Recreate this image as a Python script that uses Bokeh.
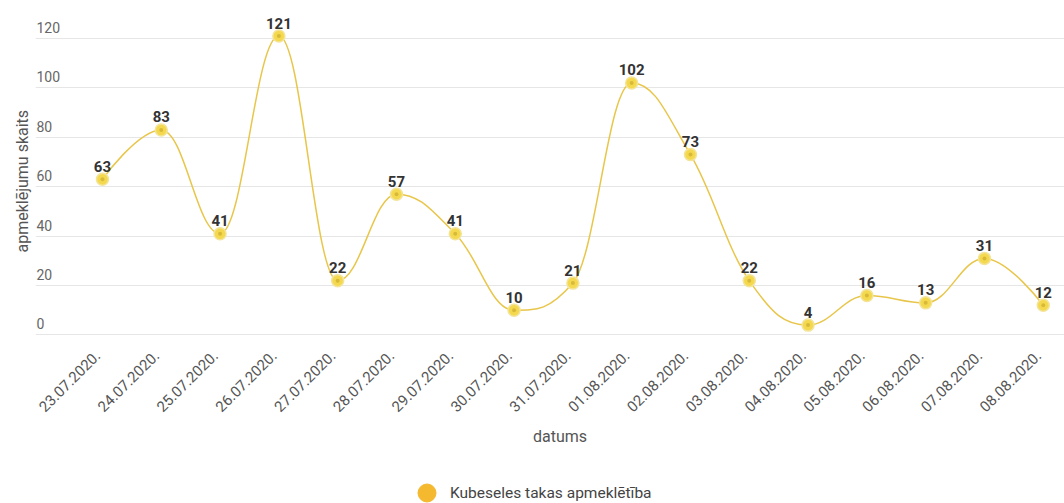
import math
import numpy as np
from bokeh.plotting import figure
from bokeh.models import FixedTicker, Range1d, Legend, LegendItem, Title
from bokeh.core.properties import value
from bokeh.embed import file_html
from bokeh.resources import INLINE

dates = ["23.07.2020.", "24.07.2020.", "25.07.2020.", "26.07.2020.", "27.07.2020.",
         "28.07.2020.", "29.07.2020.", "30.07.2020.", "31.07.2020.", "01.08.2020.",
         "02.08.2020.", "03.08.2020.", "04.08.2020.", "05.08.2020.", "06.08.2020.",
         "07.08.2020.", "08.08.2020."]
visits = [63, 83, 41, 121, 22, 57, 41, 10, 21, 102, 73, 22, 4, 16, 13, 31, 12]
y_ticks = [0, 20, 40, 60, 80, 100, 120]
series_name = "Kubeseles takas apmeklētība"
x_title = "datums"
y_title = "apmeklējumu skaits"

FONT = "Roboto"
LINE_COLOR = "#e8c64a"

xs = list(range(len(visits)))

# value area spans -2.23 .. 131.33; the frame continues further down so that the
# category labels, axis title and legend sit inside it.
Y_HIGH = 131.33
p = figure(width=1064, height=503, output_backend="svg", toolbar_location=None,
           x_range=Range1d(-1.139, 16.361), y_range=Range1d(-68.2, Y_HIGH),
           min_border_left=35, min_border_right=0, min_border_top=10, min_border_bottom=0)
p.outline_line_color = None
p.background_fill_color = "white"
p.border_fill_color = "white"

# grid
p.xgrid.visible = False
p.ygrid.ticker = FixedTicker(ticks=y_ticks)
p.ygrid.grid_line_color = "#e6e6e6"
p.ygrid.grid_line_width = 1

p.xaxis.visible = False
p.yaxis.visible = False

# y axis title
p.add_layout(Title(text=y_title, align="left", offset=251, standoff=8,
                   text_font=FONT, text_font_size="16px", text_font_style="normal",
                   text_color="#555555"), "left")

# y tick labels drawn inside the plot, above grid lines
p.text(x=[p.x_range.start] * len(y_ticks), y=y_ticks, text=[str(t) for t in y_ticks],
       x_offset=1, y_offset=-11, text_align="left", text_baseline="alphabetic",
       text_font=value(FONT), text_font_size="14px", text_color="#666666")

# category labels (rotated) under the zero line
p.text(x=xs, y=[0] * len(xs), text=dates, angle=math.pi / 4,
       x_offset=-5, y_offset=18, text_align="right", text_baseline="middle",
       text_font=value(FONT), text_font_size="15px", text_color="#555555")

# x axis title
p.text(x=[(p.x_range.start + p.x_range.end) / 2], y=[0], text=[x_title],
       x_offset=10, y_offset=102, text_align="center", text_baseline="middle",
       text_font=value(FONT), text_font_size="16px", text_color="#555555")

# smooth curve (spline with control points clamped to avoid false extremes)
X = np.array(xs, dtype=float)
Y = np.array(visits, dtype=float)
n = len(Y)
s = 1.5
lcx, lcy = X.copy(), Y.copy()
rcx, rcy = X.copy(), Y.copy()
for i in range(1, n - 1):
    px, py = X[i], Y[i]
    ax, ay = X[i - 1], Y[i - 1]
    bx, by = X[i + 1], Y[i + 1]
    lx = (s * px + ax) / (s + 1); ly = (s * py + ay) / (s + 1)
    rx = (s * px + bx) / (s + 1); ry = (s * py + by) / (s + 1)
    corr = (ry - ly) * (rx - px) / (rx - lx) + py - ry
    ly += corr; ry += corr
    if ly > ay and ly > py:
        ly = max(ay, py); ry = 2 * py - ly
    elif ly < ay and ly < py:
        ly = min(ay, py); ry = 2 * py - ly
    if ry > by and ry > py:
        ry = max(by, py); ly = 2 * py - ry
    elif ry < by and ry < py:
        ry = min(by, py); ly = 2 * py - ry
    lcx[i], lcy[i], rcx[i], rcy[i] = lx, ly, rx, ry
p.bezier(x0=X[:-1], y0=Y[:-1], x1=X[1:], y1=Y[1:],
         cx0=rcx[:-1], cy0=rcy[:-1], cx1=lcx[1:], cy1=lcy[1:],
         line_color=LINE_COLOR, line_width=1.5)

# markers
p.scatter(x=xs, y=visits, size=12, fill_color="#f4d94e", line_color="#f3e49a", line_width=1.5)
p.scatter(x=xs, y=visits, size=4, fill_color="#d9b93a", line_color=None)

# value labels
p.text(x=xs, y=visits, text=[str(v) for v in visits], y_offset=-13,
       text_align="center", text_baseline="alphabetic",
       text_font=value(FONT), text_font_size="15px", text_font_style="bold",
       text_color="#333333")

# legend (its renderer holds no visible point)
dummy = p.scatter(x=[float("nan")], y=[float("nan")], size=18,
                  fill_color="#f5b930", line_color="#f5b930")
legend = Legend(items=[LegendItem(label=series_name, renderers=[dummy])],
                location=(369, -12), orientation="horizontal",
                glyph_width=45, glyph_height=45, label_standoff=1,
                padding=0, spacing=0, margin=0,
                background_fill_alpha=0, border_line_color=None,
                label_text_font=FONT, label_text_font_size="15.5px",
                label_text_color="#444444")
p.add_layout(legend, "center")

open("out.html", "w").write(file_html(p, INLINE))
